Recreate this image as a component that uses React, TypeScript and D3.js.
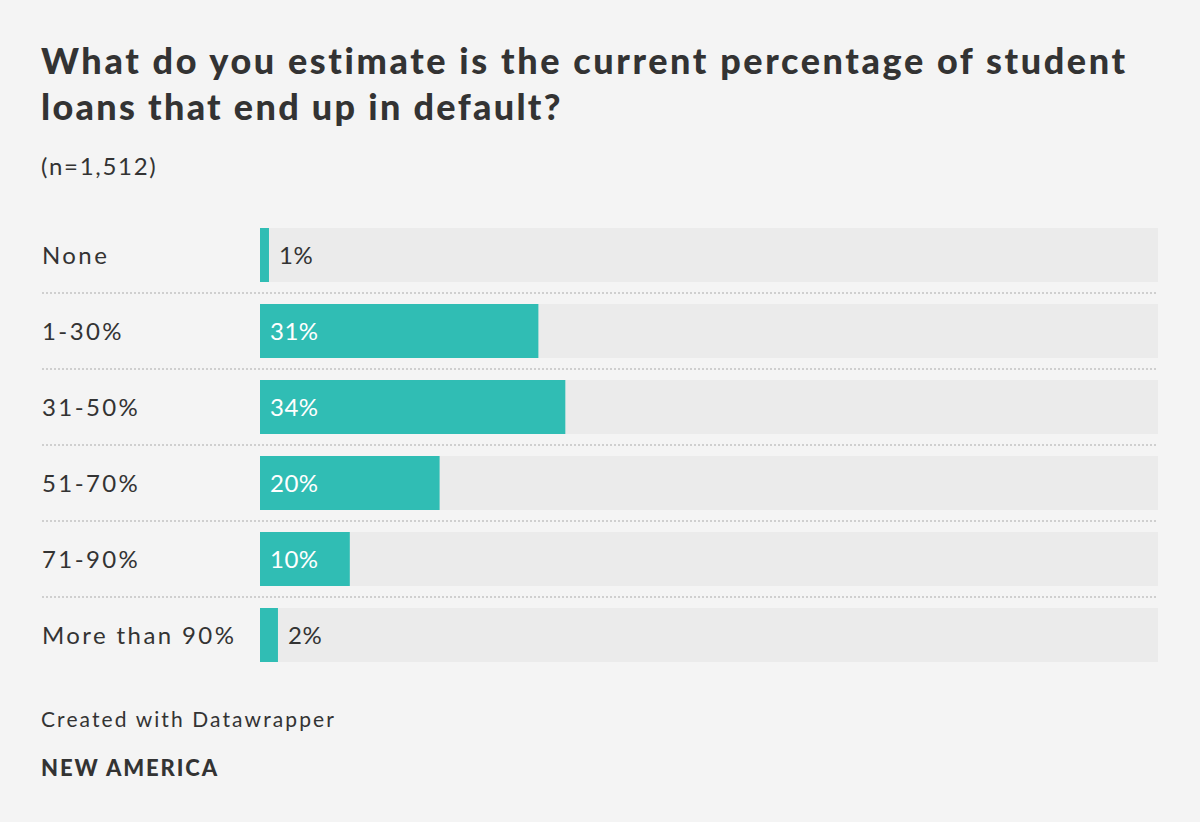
import { useEffect } from "react"
import { scaleLinear, scaleBand } from "d3"

const categories = ["None", "1-30%", "31-50%", "51-70%", "71-90%", "More than 90%"]
const values = [1, 31, 34, 20, 10, 2]

const titleLines = [
  "What do you estimate is the current percentage of student",
  "loans that end up in default?",
]
const subtitle = "(n=1,512)"
const credit = "Created with Datawrapper"
const brand = "NEW AMERICA"

const W = 1200
const H = 822
const FONT = "Lato, 'Open Sans', sans-serif"

export default function App() {
  useEffect(() => {
    document.body.style.margin = "0"
  }, [])

  // bar area: 54px bars, 76px row step
  const step = 76
  const barH = 54
  const top0 = 228
  const x = scaleLinear().domain([0, 100]).range([260, 1158])
  const y = scaleBand<string>()
    .domain(categories)
    .range([top0, top0 + step * (categories.length - 1) + barH])
    .paddingInner((step - barH) / step)
    .paddingOuter(0)
    .align(0)

  const bw = y.bandwidth()

  return (
    <svg width={W} height={H} style={{ display: "block", background: "#f4f4f4" }}>
      <rect width={W} height={H} fill="#f4f4f4" />
      {/* title */}
      {titleLines.map((t, i) => (
        <text
          key={i}
          x={41}
          y={74 + i * 46}
          fontFamily={FONT}
          fontWeight={900}
          fontSize={36}
          fill="#333"
          letterSpacing={i === 0 ? 2.6 : 2.3}
        >
          {t}
        </text>
      ))}
      <text x={41} y={175} fontFamily={FONT} fontSize={24} fill="#333" letterSpacing={1.7}>
        {subtitle}
      </text>

      {categories.map((c, i) => {
        const top = y(c) ?? 0
        const v = values[i]
        const inside = x(v) - x(0) > 60
        return (
          <g key={c}>
            <text
              x={42}
              y={top + bw / 2 + 9}
              fontFamily={FONT}
              fontSize={24}
              fill="#333"
              letterSpacing={2.4}
            >
              {c}
            </text>
            <rect x={x(0)} y={top} width={x(100) - x(0)} height={bw} fill="#ebebeb" />
            <rect x={x(0)} y={top} width={x(v) - x(0)} height={bw} fill="#30bdb4" />
            <text
              x={inside ? x(0) + 10 : x(v) + 10}
              y={top + bw / 2 + 9}
              fontFamily={FONT}
              fontSize={24}
              fill={inside ? "#fff" : "#333"}
              letterSpacing={0.5}
            >
              {v}%
            </text>
            {i < categories.length - 1 && (
              <line
                x1={42}
                x2={1158}
                y1={top + bw + 11}
                y2={top + bw + 11}
                stroke="#cfcfcf"
                strokeWidth={2}
                strokeDasharray="2,2"
              />
            )}
          </g>
        )
      })}

      <text x={41} y={727} fontFamily={FONT} fontSize={21} fill="#333" letterSpacing={2.1}>
        {credit}
      </text>
      <text
        x={41}
        y={776}
        fontFamily={FONT}
        fontWeight={900}
        fontSize={22}
        fill="#333"
        letterSpacing={1.9}
      >
        {brand}
      </text>
    </svg>
  )
}
